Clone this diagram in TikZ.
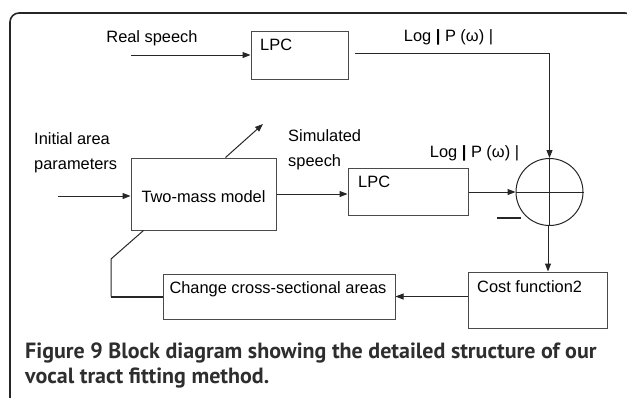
\documentclass[tikz,border=0pt]{standalone}
\usepackage{fontspec}
\setmainfont{Liberation Sans}
\newfontfamily\capfont{PT Sans}
\usetikzlibrary{arrows.meta}
\definecolor{boxline}{HTML}{4A4A4A}
\definecolor{captxt}{HTML}{2E2E2E}
\tikzset{
  blk/.style={draw=boxline, line width=1pt, inner sep=0pt},
  lbl/.style={inner sep=0pt, font=\fontsize{16.4}{25}\selectfont},
  flow/.style={draw=black!85, line width=1pt, -{Triangle[length=8pt,width=6pt]}},
  wire/.style={draw=black!85, line width=1pt},
}
\begin{document}
\begin{tikzpicture}[x=1pt,y=-1pt]
\useasboundingbox (0,0) rectangle (627,397);

% outer frame (only top and left edges fall inside the page)
\begin{scope}
  \clip (0,0) rectangle (627,397);
  \draw[line width=1.6pt, black!85, rounded corners=9pt] (10,13) rectangle (634,420);
\end{scope}

% blocks
\node[blk, minimum width=97pt, minimum height=48pt] (lpcA) at (299.5,55) {};
\node[blk, minimum width=120pt, minimum height=47pt] (lpcB) at (408,191.5) {};
\node[blk, minimum width=145pt, minimum height=72pt] (twomass) at (203.5,194) {};
\node[blk, minimum width=139pt, minimum height=56pt] (cost) at (537.5,300) {};
\node[blk, minimum width=232pt, minimum height=45pt] (change) at (279,296.5) {};
\node[draw=black!85, line width=1pt, circle, minimum size=67pt, inner sep=0pt] (sum) at (549.5,192) {};
\draw[wire] (sum.north) -- (sum.south);
\draw[wire] (sum.west) -- (sum.east);

% block texts
\node[lbl, anchor=west] (lpcAtxt) at (260,45) {LPC};
\node[lbl, anchor=west] (lpcBtxt) at (358,182) {LPC};
\node[lbl] (twomasstxt) at (203.5,197) {Two-mass model};
\node[lbl, anchor=west] (costtxt) at (477,287) {Cost function2};
\node[lbl] (changetxt) at (278,289) {Change cross-sectional areas};

% free labels
\node[lbl] (realtxt) at (152,38) {Real speech};
\node[lbl] (logA) at (448.5,37) {Log {\bfseries|} P (ω) |};
\node[lbl] (logB) at (474.5,153) {Log {\bfseries|} P (ω) |};
\node[lbl, anchor=west, align=left] (inittxt) at (34,152.5) {Initial area\\parameters};
\node[lbl, anchor=west, align=left] (simtxt) at (288,150) {Simulated\\speech};

% free ends of connectors
\coordinate (realin) at (131,55);
\coordinate (initin) at (58,196);
\coordinate (simout) at (263,124);
\coordinate (fbcorner) at (111,296.5);
\coordinate (fbbend) at (111,259);

% connectors
\draw[flow] (realin) -- (realin -| lpcA.west);
\draw[flow] ([xshift=6pt,yshift=2pt]lpcA.east) -| (sum.north);
\draw[flow] (lpcB.east |- sum.west) -- (sum.west);
\draw[flow] (twomass.east) -- (twomass.east -| lpcB.west);
\draw[flow] (initin) -- (initin -| twomass.west);
\draw[flow] ([xshift=22pt]twomass.north) -- (simout);
\draw[flow] ([xshift=-1.5pt]sum.south) -- ([xshift=-1.5pt]sum.south |- cost.north);
\draw[flow] (change.east -| cost.west) -- (change.east);
\draw[wire, line width=2pt] (change.west) -- (fbcorner);
\draw[wire] (fbcorner) -- (fbbend) -- ([xshift=13pt]twomass.south west);

% minus sign at the summing junction
\draw[black!85, line width=1.8pt] ([xshift=-52.5pt,yshift=-26pt]sum.center) -- ([xshift=-28.5pt,yshift=-26pt]sum.center);

% caption
\node[anchor=west, inner sep=0pt, text=captxt, font=\capfont\bfseries\fontsize{22}{25}\selectfont, align=left] (caption) at (25,365.5)
  {Figure 9 Block diagram showing the detailed structure of our\\vocal tract fitting method.};
\end{tikzpicture}
\end{document}
